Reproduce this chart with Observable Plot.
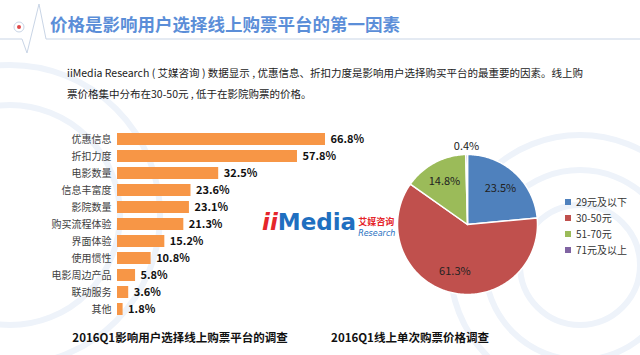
<!DOCTYPE html>
<html><head><meta charset="utf-8">
<script src="https://cdn.jsdelivr.net/npm/d3@7"></script>
<script src="https://cdn.jsdelivr.net/npm/@observablehq/plot@0.6"></script>
<style>
body{margin:0;background:#fff;font-family:"Noto Sans CJK SC","Noto Sans",sans-serif;}
#root{position:relative;width:640px;height:355px;overflow:hidden;background:#fff;}
.abs{position:absolute;}
#title{left:50px;top:11px;font-size:17.5px;font-weight:bold;color:#5b8ed8;white-space:nowrap;}
#para{left:67px;top:62px;font-size:10.5px;line-height:21px;color:#222;white-space:nowrap;}
.cap{font-size:11.5px;font-weight:bold;color:#111;white-space:nowrap;transform:translateX(-50%);}
#legend{left:565px;top:194px;font-size:10px;color:#333;line-height:16px;}
#legend div{display:flex;align-items:center;}
#legend span.sw{display:inline-block;width:6px;height:6px;margin-right:5px;}
#logo{left:262px;top:209px;white-space:nowrap;font-family:"DejaVu Sans",sans-serif;}
</style></head>
<body><div id="root">
<svg class="abs" style="left:0;top:0" width="640" height="355">
  <g fill="none" stroke="#eef3fa" stroke-width="6">
    <circle cx="580" cy="265" r="95"/><circle cx="580" cy="265" r="130"/><circle cx="580" cy="265" r="60"/>
    <circle cx="10" cy="215" r="110"/><circle cx="10" cy="215" r="150"/>
  </g>
  <path d="M0 39 L22 39 L27 53 L39 4 L46 39 L640 39" fill="none" stroke="#c9d5e6" stroke-width="1"/>
  <circle cx="19" cy="27" r="5" fill="none" stroke="#c9d5e6"/>
  <circle cx="19" cy="27" r="2" fill="#e04848"/>
</svg>
<div id="title" class="abs">价格是影响用户选择线上购票平台的第一因素</div>
<div id="para" class="abs">iiMedia Research ( 艾媒咨询 ) 数据显示 , 优惠信息、折扣力度是影响用户选择购买平台的最重要的因素。线上购<br>票价格集中分布在30-50元 , 低于在影院购票的价格。</div>
<div id="logo" class="abs"><span style="font-size:23px;font-weight:bold;color:#e5262b;font-style:italic">ii</span><span style="font-size:23px;font-weight:bold;color:#1f6fc0">Media</span><span style="display:inline-block;vertical-align:top;margin-left:2px;line-height:9px;margin-top:6px"><span style="font-size:9px;font-weight:bold;color:#e5262b;font-family:'Noto Sans CJK SC'">艾媒咨询</span><br><span style="font-size:8px;font-style:italic;color:#1f6fc0">Research</span></span></div>
<div id="bars" class="abs" style="left:0;top:127px"></div>
<div id="pie" class="abs" style="left:380px;top:130px"></div>
<div id="legend" class="abs"></div>
<div class="abs cap" style="left:180px;top:329px">2016Q1影响用户选择线上购票平台的调查</div>
<div class="abs cap" style="left:410px;top:329px">2016Q1线上单次购票价格调查</div>
</div>
<script>
// ---- data ----
const factors = ["优惠信息","折扣力度","电影数量","信息丰富度","影院数量","购买流程体验","界面体验","使用惯性","电影周边产品","联动服务","其他"];
const factorValues = [66.8,57.8,32.5,23.6,23.1,21.3,15.2,10.8,5.8,3.6,1.8];
const priceRanges = ["29元及以下","30-50元","51-70元","71元及以上"];
const priceShares = [23.5,61.3,14.8,0.4];
// ---- styles ----
const barColor = "#f79646";
const priceColors = ["#4f81bd","#c0504d","#9bbb59","#8064a2"];
const font = '"Noto Sans CJK SC","Noto Sans",sans-serif';

const barData = factors.map((f,i)=>({factor:f,value:factorValues[i]}));
const barPlot = Plot.plot({
  width:380,height:194,marginTop:0,marginBottom:0,marginLeft:117,marginRight:55,
  x:{domain:[0,d3.max(factorValues)],axis:null},
  y:{domain:factors,padding:0.3,axis:null},
  style:{fontFamily:font,background:"transparent",overflow:"visible"},
  marks:[
    Plot.barX(barData,{x:"value",y:"factor",fill:barColor}),
    Plot.text(barData,{x:"value",y:"factor",text:d=>d.value.toFixed(1)+"%",textAnchor:"start",dx:5,fontWeight:"bold",fontSize:11,fill:"#111"}),
    Plot.axisY({tickSize:0,tickPadding:6,label:null,fontSize:10,color:"#404040"})
  ]
});
document.getElementById("bars").appendChild(barPlot);

// pie
const pieData = priceRanges.map((r,i)=>({range:r,share:priceShares[i]}));
const arcs = d3.pie().sort(null).value(d=>d.share)(pieData);
const polys = [];
arcs.forEach(a=>{
  const n = Math.max(2,Math.ceil((a.endAngle-a.startAngle)/(Math.PI/180)));
  polys.push({range:a.data.range,px:0,py:0});
  for(let k=0;k<=n;k++){
    const t = a.startAngle+(a.endAngle-a.startAngle)*k/n;
    polys.push({range:a.data.range,px:Math.sin(t),py:Math.cos(t)});
  }
  polys.push({range:a.data.range,px:0,py:0});
});
const labels = arcs.map(a=>{
  const m=(a.startAngle+a.endAngle)/2, r=a.data.share<2?1.12:0.7;
  return {text:a.data.share.toFixed(1)+"%",px:Math.sin(m)*r,py:Math.cos(m)*r};
});
const cx=87, cy=94, R=70;
const piePlot = Plot.plot({
  width:260,height:200,margin:0,
  x:{domain:[-1,1],range:[cx-R,cx+R],axis:null},
  y:{domain:[-1,1],range:[cy+R,cy-R],axis:null},
  color:{domain:priceRanges,range:priceColors},
  style:{fontFamily:font,background:"transparent",overflow:"visible"},
  marks:[
    Plot.line(polys,{x:"px",y:"py",z:"range",fill:"range",stroke:"white",strokeWidth:1.5,style:"filter:drop-shadow(1px 2px 2px rgba(0,0,0,0.25))"}),
    Plot.text(labels,{x:"px",y:"py",text:"text",fontSize:11,fill:"#222"})
  ]
});
document.getElementById("pie").appendChild(piePlot);

const lg=document.getElementById("legend");
priceRanges.forEach((r,i)=>{
  const d=document.createElement("div");
  d.innerHTML=`<span class="sw" style="background:${priceColors[i]}"></span>${r}`;
  lg.appendChild(d);
});
</script>
</body></html>
